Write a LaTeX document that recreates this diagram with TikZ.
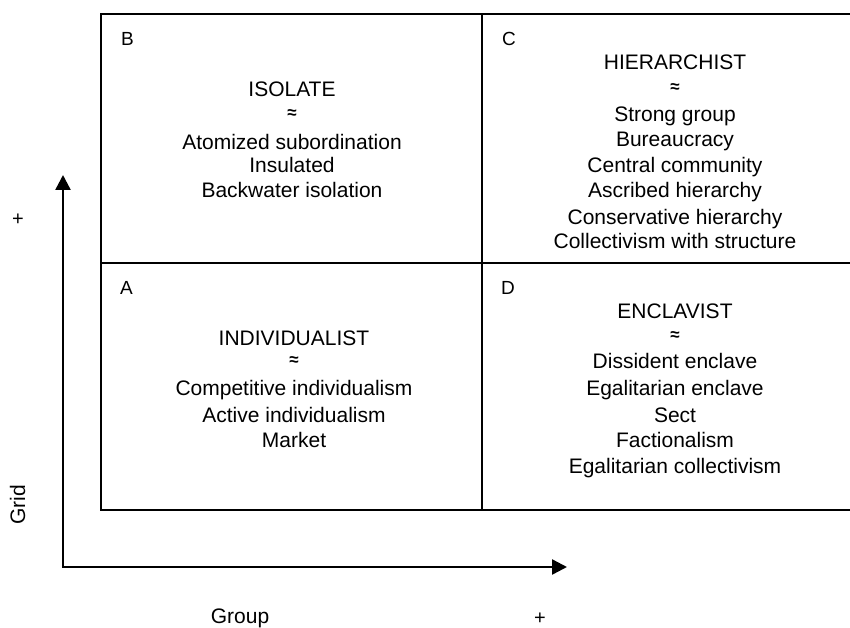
\documentclass[tikz,border=0pt]{standalone}
\usepackage{fontspec}
\setmainfont{Liberation Sans}
\usetikzlibrary{arrows.meta}
\begin{document}
\begin{tikzpicture}[x=1pt,y=-1pt,
  txt/.style={font=\fontsize{21}{25}\selectfont, anchor=base, inner sep=0pt},
  approx/.style={font=\fontsize{17}{20}\selectfont\bfseries, anchor=center, inner sep=0pt},
  letter/.style={font=\fontsize{19}{23}\selectfont, anchor=base west, inner sep=0pt},
  frame/.style={line width=2.2pt},
  axis/.style={line width=2.4pt, -{Triangle[length=15pt,width=15pt]}}]
\useasboundingbox (0,0) rectangle (850,628);
% frame
\draw[frame] (880,14) -- (101,14) -- (101,510) -- (880,510);
\draw[frame] (482,14) -- (482,510);
\draw[frame] (101,263) -- (880,263);
% quadrant letters
\node[letter] (lB) at (121,46) {B};
\node[letter] (lC) at (502,46) {C};
\node[letter] (lA) at (120,294) {A};
\node[letter] (lD) at (501,294) {D};
% B
\node[txt] (b1) at (292,97) {ISOLATE};
\node[approx] (b2) at (292,114) {≈};
\node[txt] (b3) at (292,150) {Atomized subordination};
\node[txt] (b4) at (292,173) {Insulated};
\node[txt] (b5) at (292,197) {Backwater isolation};
% C
\node[txt] (c1) at (675,70) {HIERARCHIST};
\node[approx] (c2) at (675,88) {≈};
\node[txt] (c3) at (675,122) {Strong group};
\node[txt] (c4) at (675,147) {Bureaucracy};
\node[txt] (c5) at (675,173) {Central community};
\node[txt] (c6) at (675,197) {Ascribed hierarchy};
\node[txt] (c7) at (675,225) {Conservative hierarchy};
\node[txt] (c8) at (675,248) {Collectivism with structure};
% A
\node[txt] (a1) at (294,345) {INDIVIDUALIST};
\node[approx] (a2) at (294,361) {≈};
\node[txt] (a3) at (294,395) {Competitive individualism};
\node[txt] (a4) at (294,422) {Active individualism};
\node[txt] (a5) at (294,447) {Market};
% D
\node[txt] (d1) at (675,318) {ENCLAVIST};
\node[approx] (d2) at (675,336) {≈};
\node[txt] (d3) at (675,368) {Dissident enclave};
\node[txt] (d4) at (675,395) {Egalitarian enclave};
\node[txt] (d5) at (675,422) {Sect};
\node[txt] (d6) at (675,447) {Factionalism};
\node[txt] (d7) at (675,473) {Egalitarian collectivism};
% axes
\coordinate (origin) at (63,567);
\coordinate (ytip) at (63,175);
\coordinate (xtip) at (567,567);
\draw[axis] ([yshift=1.2pt]origin) -- (ytip);
\draw[axis] ([xshift=-1.2pt]origin) -- (xtip);
% axis labels
\node[font=\fontsize{20}{24}\selectfont, inner sep=0pt] (yplus) at (18,220) {+};
\node[font=\fontsize{20}{24}\selectfont, inner sep=0pt] (xplus) at (540,619) {+};
\node[font=\fontsize{21}{25}\selectfont, inner sep=0pt, anchor=base] (grp) at (240,623) {Group};
\node[font=\fontsize{21}{25}\selectfont, inner sep=0pt, anchor=base, rotate=90] (grd) at (25,505) {Grid};
\end{tikzpicture}
\end{document}
